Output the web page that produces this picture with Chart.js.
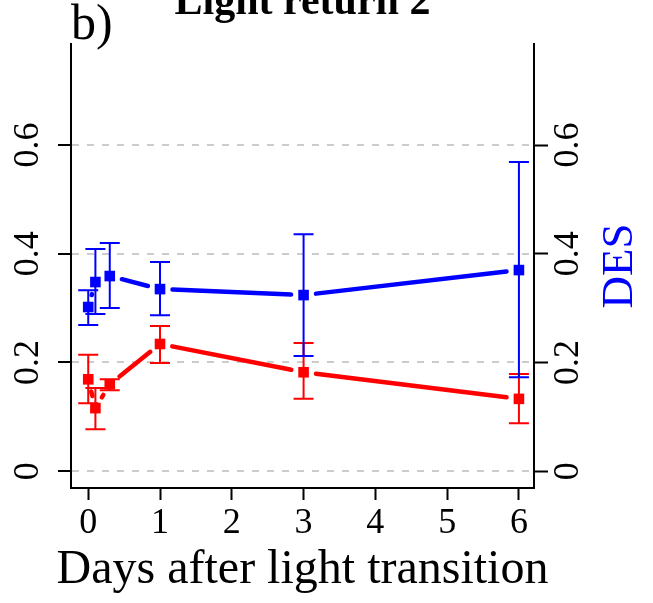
<!DOCTYPE html>
<html>
<head>
<meta charset="utf-8">
<script src="https://cdn.jsdelivr.net/npm/chart.js@4.4.1/dist/chart.umd.min.js"></script>
<style>
  html, body { margin: 0; padding: 0; background: #ffffff; }
  #wrap { width: 653px; height: 603px; }
</style>
</head>
<body>
<div id="wrap"><canvas id="grafico" width="653" height="603"></canvas></div>
<script>
// days after the light transition
const days = [0, 0.1, 0.3, 1, 3, 6];
const xTicks = [0, 1, 2, 3, 4, 5, 6];
const yTicks = [0, 0.2, 0.4, 0.6];

// red series (left axis)
const redMean = [0.169, 0.116, 0.160, 0.234, 0.182, 0.133];
const redLow = [0.125, 0.077, 0.149, 0.199, 0.133, 0.088];
const redHigh = [0.214, 0.153, 0.169, 0.267, 0.236, 0.179];

// blue series (DES)
const blueMean = [0.302, 0.348, 0.359, 0.335, 0.324, 0.370];
const blueLow = [0.269, 0.289, 0.300, 0.287, 0.212, 0.173];
const blueHigh = [0.333, 0.409, 0.420, 0.385, 0.436, 0.569];

const panelLabel = 'b)';
const panelTitle = 'Light return 2';
const rightTitle = 'DES';
const xTitle = 'Days after light transition';

const RED = '#ff0000';
const BLUE = '#0000ff';
const FONT = "'Liberation Serif', 'Times New Roman', serif";

function toPoints(ys) {
    return days.map((d, i) => ({ x: d, y: ys[i] }));
}

// lines between points, stopping short of each marker
const gapLines = {
    id: 'gapLines',
    beforeDatasetsDraw(chart) {
        const ctx = chart.ctx;
        const gap = 12.5;
        chart.data.datasets.forEach((ds, k) => {
            const pts = chart.getDatasetMeta(k).data;
            ctx.save();
            ctx.strokeStyle = ds.backgroundColor;
            ctx.lineWidth = 4.5;
            ctx.lineCap = 'round';
            for (let i = 0; i < pts.length - 1; i++) {
                const a = pts[i], b = pts[i + 1];
                const dx = b.x - a.x, dy = b.y - a.y;
                const d = Math.hypot(dx, dy);
                if (d <= 2 * gap) continue;
                const ux = dx / d, uy = dy / d;
                ctx.beginPath();
                ctx.moveTo(a.x + ux * gap, a.y + uy * gap);
                ctx.lineTo(b.x - ux * gap, b.y - uy * gap);
                ctx.stroke();
            }
            ctx.restore();
        });
    }
};

// error bars with caps
const errorBars = {
    id: 'errorBars',
    afterDatasetsDraw(chart) {
        const ctx = chart.ctx;
        const xs = chart.scales.x, ys = chart.scales.y;
        const bars = [[redLow, redHigh, RED], [blueLow, blueHigh, BLUE]];
        ctx.save();
        ctx.lineWidth = 2;
        bars.forEach(([lo, hi, color]) => {
            ctx.strokeStyle = color;
            days.forEach((d, i) => {
                const x = xs.getPixelForValue(d);
                const y1 = ys.getPixelForValue(lo[i]);
                const y2 = ys.getPixelForValue(hi[i]);
                ctx.beginPath();
                ctx.moveTo(x, y1); ctx.lineTo(x, y2);
                ctx.moveTo(x - 10, y1); ctx.lineTo(x + 10, y1);
                ctx.moveTo(x - 10, y2); ctx.lineTo(x + 10, y2);
                ctx.stroke();
            });
        });
        ctx.restore();
    }
};

// panel letter, titles and right axis name
const extraText = {
    id: 'extraText',
    afterDraw(chart) {
        const ctx = chart.ctx;
        const area = chart.chartArea;
        const midX = (area.left + area.right) / 2;
        ctx.save();
        ctx.fillStyle = '#000000';
        ctx.textBaseline = 'alphabetic';
        ctx.font = '50px ' + FONT;
        ctx.textAlign = 'left';
        ctx.fillText(panelLabel, 71, 39);
        ctx.font = 'bold 42px ' + FONT;
        ctx.textAlign = 'center';
        ctx.fillText(panelTitle, midX, 14);
        ctx.font = '48px ' + FONT;
        ctx.fillText(xTitle, midX, 583);
        ctx.translate(632, (area.top + area.bottom) / 2);
        ctx.rotate(-Math.PI / 2);
        ctx.fillStyle = BLUE;
        ctx.font = '45px ' + FONT;
        ctx.fillText(rightTitle, 0, 0);
        ctx.restore();
    }
};

function setTicks(values) {
    return function (scale) {
        scale.ticks = values.map(v => ({ value: v }));
    };
}

const yRange = { min: -0.031, max: 0.786 };

var ctx = document.getElementById('grafico').getContext('2d');
var grafico = new Chart(ctx, {
    type: 'scatter',
    data: {
        datasets: [{
            label: 'red',
            data: toPoints(redMean),
            backgroundColor: RED,
            borderWidth: 0,
            pointStyle: 'rect',
            pointRadius: 7.5,
            showLine: false
        }, {
            label: 'DES',
            data: toPoints(blueMean),
            backgroundColor: BLUE,
            borderWidth: 0,
            pointStyle: 'rect',
            pointRadius: 7.5,
            showLine: false
        }]
    },
    options: {
        responsive: false,
        animation: false,
        events: [],
        layout: { padding: { top: 44, left: 0, right: 0, bottom: 0 } },
        plugins: {
            legend: { display: false },
            tooltip: { enabled: false }
        },
        scales: {
            x: {
                type: 'linear',
                position: 'bottom',
                min: -0.24,
                max: 6.21,
                afterBuildTicks: setTicks(xTicks),
                afterFit(scale) { scale.height = 115; },
                grid: {
                    drawOnChartArea: false,
                    tickLength: 12,
                    tickWidth: 2,
                    tickColor: '#000000'
                },
                border: { display: true, color: '#000000', width: 2 },
                ticks: {
                    autoSkip: false,
                    maxRotation: 0,
                    padding: 2,
                    color: '#000000',
                    font: { family: FONT, size: 36 },
                    callback: v => String(v)
                }
            },
            y: {
                type: 'linear',
                position: 'left',
                min: yRange.min,
                max: yRange.max,
                afterBuildTicks: setTicks(yTicks),
                afterFit(scale) { scale.width = 71; },
                grid: {
                    color: '#cccccc',
                    lineWidth: 2,
                    tickLength: 13,
                    tickWidth: 2,
                    tickColor: '#000000',
                    tickBorderDash: []
                },
                border: { display: true, color: '#000000', width: 2, dash: [7, 8] },
                ticks: {
                    autoSkip: false,
                    minRotation: 90,
                    maxRotation: 90,
                    crossAlign: 'center',
                    padding: 7,
                    color: '#000000',
                    font: { family: FONT, size: 36 },
                    callback: v => String(v)
                }
            },
            y2: {
                type: 'linear',
                position: 'right',
                min: yRange.min,
                max: yRange.max,
                afterBuildTicks: setTicks(yTicks),
                afterFit(scale) { scale.width = 119; },
                grid: {
                    drawOnChartArea: false,
                    tickLength: 14,
                    tickWidth: 2,
                    tickColor: '#000000'
                },
                border: { display: true, color: '#000000', width: 2 },
                ticks: {
                    autoSkip: false,
                    minRotation: 90,
                    maxRotation: 90,
                    crossAlign: 'center',
                    padding: -2,
                    color: '#000000',
                    font: { family: FONT, size: 36 },
                    callback: v => String(v)
                }
            }
        }
    },
    plugins: [gapLines, errorBars, extraText]
});
console.log('chart area:', grafico.chartArea);
</script>
</body>
</html>
